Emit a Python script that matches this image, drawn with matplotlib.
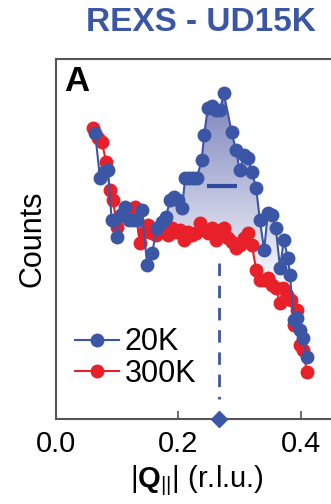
import numpy as np
import matplotlib
matplotlib.use("Agg")
import matplotlib.pyplot as plt
from matplotlib.path import Path
from matplotlib.colors import LinearSegmentedColormap

plt.rcParams["font.family"] = ["Liberation Sans", "DejaVu Sans"]
plt.rcParams["mathtext.fontset"] = "custom"
plt.rcParams["mathtext.rm"] = "Liberation Sans"
plt.rcParams["mathtext.bf"] = "Liberation Sans:bold"

# 20 K scan (blue)
q_20k = [0.064, 0.072, 0.078, 0.085, 0.091, 0.100, 0.106, 0.113, 0.119, 0.126,
         0.132, 0.140, 0.149, 0.157, 0.165, 0.173, 0.180, 0.186, 0.193, 0.199,
         0.206, 0.211, 0.217, 0.224, 0.230, 0.238, 0.242, 0.248, 0.255, 0.261,
         0.268, 0.274, 0.287, 0.294, 0.300, 0.307, 0.314, 0.320, 0.327, 0.333,
         0.340, 0.346, 0.353, 0.359, 0.366, 0.372, 0.379, 0.382, 0.389, 0.394,
         0.398, 0.403, 0.410]
c_20k = [286, 241, 247, 249, 199, 182, 204, 212, 199, 199,
         199, 209, 154, 166, 191, 197, 202, 219, 222, 219,
         211, 241, 241, 241, 241, 259, 284, 311, 313, 309,
         309, 326, 287, 269, 249, 264, 261, 247, 231, 199,
         169, 206, 204, 191, 151, 179, 161, 144, 99, 101,
         89, 81, 62]

# 300 K scan (red)
q_300k = [0.060, 0.069, 0.075, 0.082, 0.088, 0.093, 0.100, 0.106, 0.113, 0.121,
          0.129, 0.137, 0.144, 0.150, 0.157, 0.163, 0.170, 0.176, 0.183, 0.189,
          0.196, 0.202, 0.209, 0.216, 0.222, 0.229, 0.235, 0.242, 0.248, 0.255,
          0.261, 0.268, 0.274, 0.281, 0.287, 0.294, 0.300, 0.307, 0.313, 0.320,
          0.327, 0.333, 0.340, 0.346, 0.353, 0.359, 0.366, 0.371, 0.377, 0.384,
          0.389, 0.393, 0.398, 0.403, 0.410]
c_300k = [291, 281, 277, 257, 229, 219, 192, 204, 209, 204,
          212, 176, 187, 194, 186, 184, 192, 187, 184, 191,
          187, 189, 179, 187, 184, 186, 196, 189, 186, 191,
          179, 189, 191, 181, 177, 171, 174, 181, 186, 174,
          149, 139, 139, 141, 134, 131, 116, 131, 124, 119,
          94, 109, 74, 69, 47]

q_peak = 0.266
fwhm = (0.2465, 0.2955)
fwhm_level = 233
dash_top = 156

blue = "#3c56a6"
red = "#e8202a"

fig = plt.figure(figsize=(3.31, 5.04), dpi=100)
ax = fig.add_axes([0.169, 0.1687, 0.851, 0.714])

# gradient fill between the two scans
qb = np.array(q_20k)
cb = np.array(c_20k)
cr = np.interp(qb, q_300k, c_300k)
fb = ax.fill_between(qb, cb, cr, where=cb > cr, interpolate=True, color="none")
clip = Path.make_compound_path(*fb.get_paths())
cmap = LinearSegmentedColormap.from_list("g", ["#f6f7fb", "#7880bb"])
grad = np.linspace(0, 1, 256).reshape(-1, 1)
im = ax.imshow(grad, cmap=cmap, origin="lower", aspect="auto",
               extent=(0, 0.46, 140, 330), zorder=1)
im.set_clip_path(clip, transform=ax.transData)
ax.set_xlim(0, 0.46)
ax.set_ylim(0, 360)

ax.plot(q_300k, c_300k, "-o", color=red, lw=1.5, ms=9, zorder=3, label="300K")
ax.plot(q_20k, c_20k, "-o", color=blue, lw=1.5, ms=9, zorder=4, label="20K")

ax.plot(fwhm, [fwhm_level, fwhm_level], color="#2f4a9a", lw=3, zorder=5,
        solid_capstyle="butt")
ax.plot([q_peak, q_peak], [dash_top, 20], color=blue, lw=2,
        dashes=(4.5, 3.5), zorder=2)
ax.plot([q_peak], [0], "D", color=blue, ms=8, clip_on=False, zorder=6)

handles, labels = ax.get_legend_handles_labels()
ax.legend(handles[::-1], labels[::-1], loc="lower left",
          bbox_to_anchor=(-0.01, 0.024), frameon=False, fontsize=22,
          handlelength=1.45, handletextpad=0.2, labelspacing=0.05,
          borderaxespad=0.3)

for side in ["top", "left", "bottom", "right"]:
    ax.spines[side].set_color("#555555")
    ax.spines[side].set_linewidth(1.5)
ax.set_yticks([])
ax.set_xticks([0.0, 0.2, 0.4])
ax.set_xticklabels(["0.0", "0.2", "0.4"])
ax.tick_params(axis="x", direction="in", length=6, width=1.2,
               color="#555555", labelsize=21, pad=8)
ax.set_ylabel("Counts", fontsize=22, labelpad=6)
ax.set_xlabel(r"$|\mathbf{Q}_{||}|$ (r.l.u.)", fontsize=21, labelpad=4)

ax.text(0.03, 0.985, "A", transform=ax.transAxes, fontsize=25,
        fontweight="bold", va="top", ha="left")
fig.text(0.608, 0.955, "REXS - UD15K", color=blue, fontsize=24,
         fontweight="bold", ha="center", va="center")

fig.savefig("out.png", dpi=100)
